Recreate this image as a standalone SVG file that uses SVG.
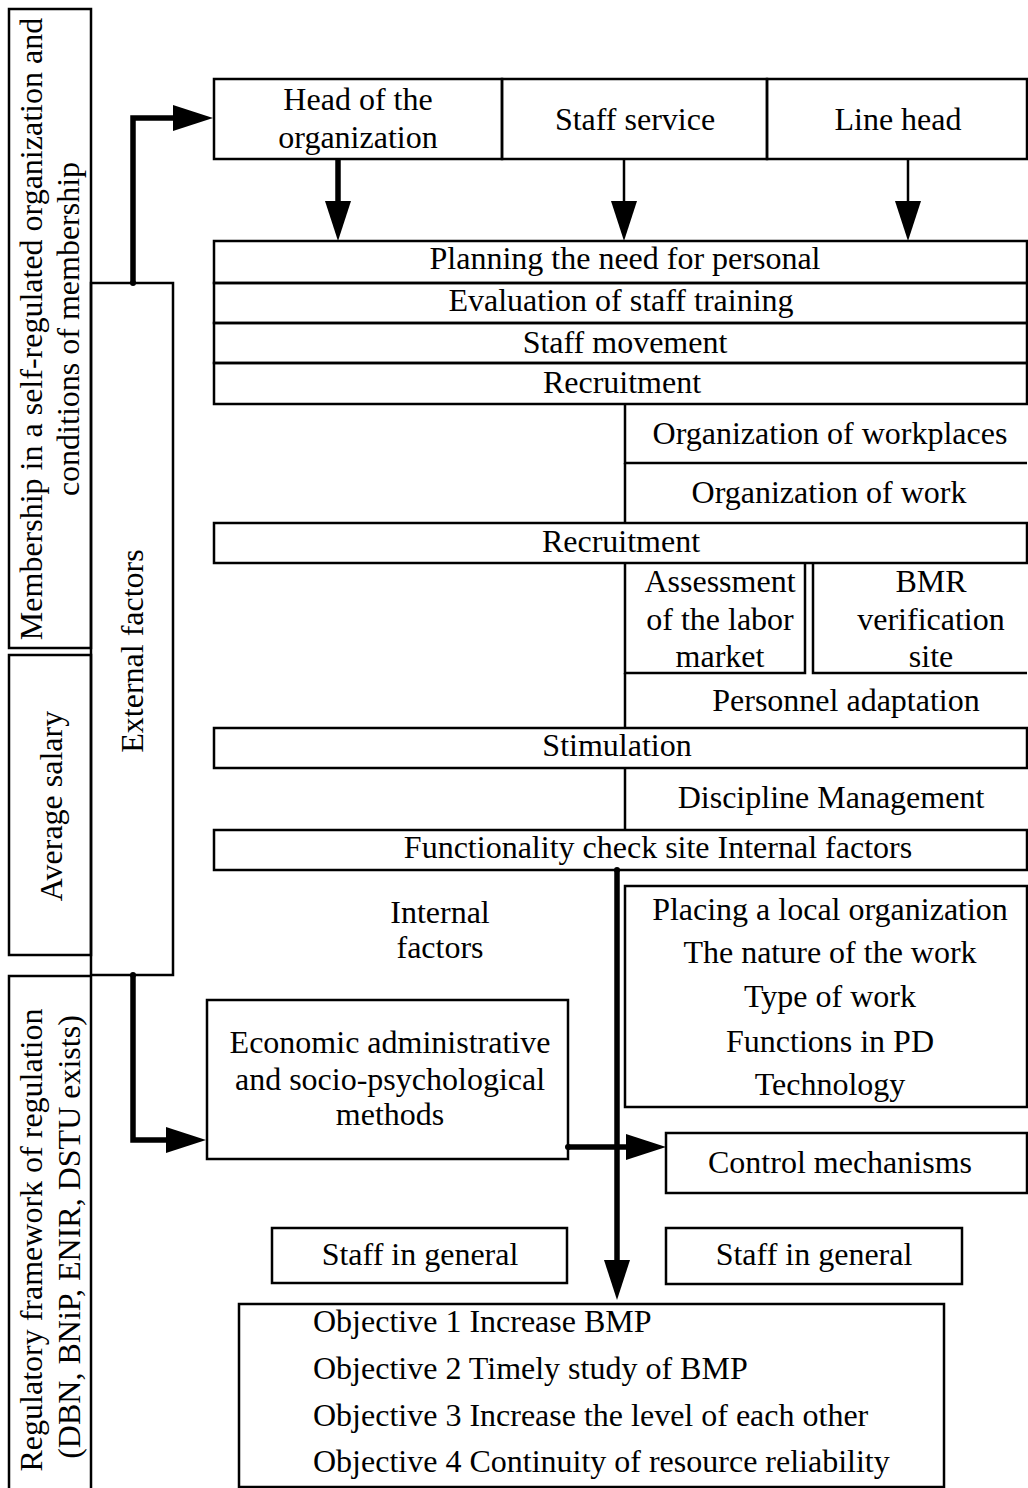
<svg xmlns="http://www.w3.org/2000/svg" width="1028" height="1488" viewBox="0 0 1028 1488">
<style>
  .bx{fill:none;stroke:#000;stroke-width:2.5}
  .ln{fill:none;stroke:#000;stroke-width:2.5}
  .tk{fill:none;stroke:#000;stroke-width:5.5}
  .th{fill:none;stroke:#000;stroke-width:2.5}
  text{font-family:"Liberation Serif","Times New Roman",serif;font-size:32px;fill:#000}
  .c{text-anchor:middle}
</style>
<defs>
  <marker id="ah" markerUnits="userSpaceOnUse" markerWidth="40" markerHeight="26" refX="0" refY="13" orient="auto" viewBox="0 0 40 26">
    <path d="M0,0 L40,13 L0,26 z" fill="#000"/>
  </marker>
</defs>
<rect width="1028" height="1488" fill="#fff"/>

<g id="membership">
  <rect class="bx" x="9" y="9" width="82" height="639"/>
  <text class="c" transform="translate(42,329) rotate(-90)">Membership in a self-regulated organization and</text>
  <text class="c" transform="translate(79,329) rotate(-90)">conditions of membership</text>
</g>
<g id="average-salary">
  <rect class="bx" x="9" y="655" width="82" height="300"/>
  <text class="c" transform="translate(62,806) rotate(-90)">Average salary</text>
</g>
<g id="regulatory">
  <rect class="bx" x="9" y="976" width="82" height="520"/>
  <text class="c" transform="translate(42,1240) rotate(-90)">Regulatory framework of regulation</text>
  <text class="c" transform="translate(80,1237) rotate(-90)">(DBN, BNiP, ENIR, DSTU exists)</text>
</g>
<g id="external-factors">
  <rect class="bx" x="91" y="283" width="82" height="692"/>
  <text class="c" transform="translate(143,651) rotate(-90)">External factors</text>
</g>

<g id="head-org">
  <rect class="bx" x="214" y="79" width="288" height="80"/>
  <text class="c" x="358" y="110">Head of the</text>
  <text class="c" x="358" y="148">organization</text>
</g>
<g id="staff-service">
  <rect class="bx" x="502" y="79" width="265" height="80"/>
  <text class="c" x="635" y="130">Staff service</text>
</g>
<g id="line-head">
  <rect class="bx" x="767" y="79" width="260" height="80"/>
  <text class="c" x="898" y="130">Line head</text>
</g>

<g id="planning">
  <rect class="bx" x="214" y="241" width="813" height="42"/>
  <text class="c" x="625" y="269">Planning the need for personal</text>
</g>
<g id="evaluation">
  <rect class="bx" x="214" y="283" width="813" height="40"/>
  <text class="c" x="621" y="311">Evaluation of staff training</text>
</g>
<g id="staff-movement">
  <rect class="bx" x="214" y="323" width="813" height="40"/>
  <text class="c" x="625" y="353">Staff movement</text>
</g>
<g id="recruitment-1">
  <rect class="bx" x="214" y="363" width="813" height="41"/>
  <text class="c" x="622" y="393">Recruitment</text>
</g>
<g id="org-workplaces">
  <path class="ln" d="M625,404 V463 H1027"/>
  <text class="c" x="830" y="444">Organization of workplaces</text>
</g>
<g id="org-work">
  <path class="ln" d="M625,463 V523"/>
  <text class="c" x="829" y="503">Organization of work</text>
</g>
<g id="recruitment-2">
  <rect class="bx" x="214" y="523" width="813" height="40"/>
  <text class="c" x="621" y="552">Recruitment</text>
</g>
<g id="assessment">
  <path class="ln" d="M625,563 V673 H805 V563"/>
  <text class="c" x="720" y="592">Assessment</text>
  <text class="c" x="720" y="630">of the labor</text>
  <text class="c" x="720" y="667">market</text>
</g>
<g id="bmr">
  <path class="ln" d="M813,563 V673 H1027"/>
  <text class="c" x="931" y="592">BMR</text>
  <text class="c" x="931" y="630">verification</text>
  <text class="c" x="931" y="667">site</text>
</g>
<g id="personnel-adaptation">
  <path class="ln" d="M625,673 V728"/>
  <text class="c" x="846" y="711">Personnel adaptation</text>
</g>
<g id="stimulation">
  <rect class="bx" x="214" y="728" width="813" height="40"/>
  <text class="c" x="617" y="756">Stimulation</text>
</g>
<g id="discipline">
  <path class="ln" d="M625,768 V830"/>
  <text class="c" x="831" y="808">Discipline Management</text>
</g>
<g id="functionality">
  <rect class="bx" x="214" y="830" width="813" height="40"/>
  <text class="c" x="658" y="858">Functionality check site Internal factors</text>
</g>

<g id="internal-factors-label">
  <text class="c" x="440" y="923">Internal</text>
  <text class="c" x="440" y="958">factors</text>
</g>
<g id="local-factors">
  <rect class="bx" x="625" y="886" width="402" height="221"/>
  <text class="c" x="830" y="920">Placing a local organization</text>
  <text class="c" x="830" y="963">The nature of the work</text>
  <text class="c" x="830" y="1007">Type of work</text>
  <text class="c" x="830" y="1052">Functions in PD</text>
  <text class="c" x="830" y="1095">Technology</text>
</g>
<g id="methods">
  <rect class="bx" x="207" y="1000" width="361" height="159"/>
  <text class="c" x="390" y="1053">Economic administrative</text>
  <text class="c" x="390" y="1090">and socio-psychological</text>
  <text class="c" x="390" y="1125">methods</text>
</g>
<g id="control">
  <rect class="bx" x="666" y="1133" width="361" height="60"/>
  <text class="c" x="840" y="1173">Control mechanisms</text>
</g>
<g id="staff-general-left">
  <rect class="bx" x="272" y="1228" width="295" height="55"/>
  <text class="c" x="420" y="1265">Staff in general</text>
</g>
<g id="staff-general-right">
  <rect class="bx" x="666" y="1228" width="296" height="56"/>
  <text class="c" x="814" y="1265">Staff in general</text>
</g>
<g id="objectives">
  <rect class="bx" x="239" y="1304" width="705" height="183"/>
  <text x="313" y="1332">Objective 1 Increase BMP</text>
  <text x="313" y="1379">Objective 2 Timely study of BMP</text>
  <text x="313" y="1426">Objective 3 Increase the level of each other</text>
  <text x="313" y="1472">Objective 4 Continuity of resource reliability</text>
</g>

<g id="connectors">
  <path class="tk" d="M133,283 V118 H173" marker-end="url(#ah)"/>
  <circle cx="133" cy="283" r="3"/>
  <path class="tk" d="M338,160 V201" marker-end="url(#ah)"/>
  <path class="th" d="M624,159 V201" marker-end="url(#ah)"/>
  <path class="th" d="M908,159 V201" marker-end="url(#ah)"/>
  <path class="tk" d="M133,975 V1140 H166" marker-end="url(#ah)"/>
  <circle cx="133" cy="975" r="3"/>
  <path class="tk" d="M617,870 V1260" marker-end="url(#ah)"/>
  <circle cx="617" cy="870" r="3"/>
  <path class="tk" d="M568,1147 H626" marker-end="url(#ah)"/>
  <circle cx="568" cy="1147" r="3"/>
</g>
</svg>
